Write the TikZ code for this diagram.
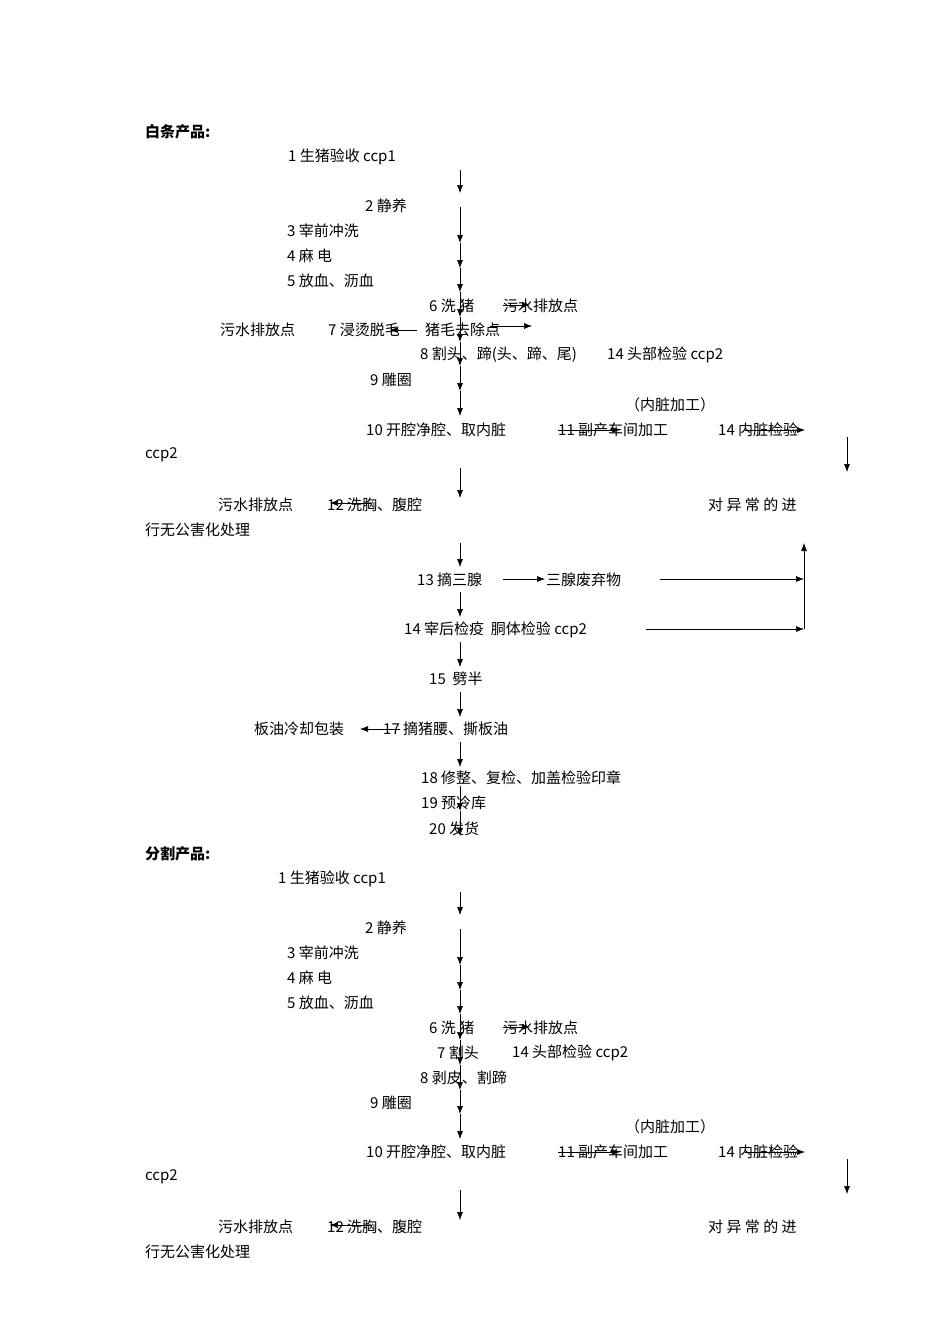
\documentclass[tikz,border=0pt]{standalone}
\usepackage{fontspec}
\setmainfont{Noto Sans CJK SC}
\usetikzlibrary{arrows.meta}
\begin{document}
\begin{tikzpicture}[x=1pt,y=-1pt,
  t/.style={anchor=west,inner sep=0pt,font=\fontsize{15}{15}\selectfont},
  tb/.style={t,font=\fontsize{15}{15}\selectfont\bfseries},
  ar/.style={-{Latex[length=8pt,width=6pt]},line width=0.6pt}]
\useasboundingbox[fill=white] (0,0) rectangle (950,1344);
% ---------- top part
\node[tb] (h1) at (145,132) {白条产品:};
\node[t] (a1) at (288,157) {1 生猪验收 ccp1};
\node[t] (a2) at (365,206) {2 静养};
\node[t] (a3) at (287,231) {3 宰前冲洗};
\node[t] (a4) at (287,256) {4 麻 电};
\node[t] (a5) at (287,281) {5 放血、沥血};
\node[t] (a6) at (429,306) {6 洗 猪};
\node[t] (w1) at (503,306) {污水排放点};
\node[t] (w2) at (220,330) {污水排放点};
\node[t] (a7) at (328,330) {7 浸烫脱毛};
\node[t] (zm) at (425,330) {猪毛去除点};
\node[t] (a8) at (420,355) {8 割头、蹄(头、蹄、尾)};
\node[t] (t14) at (607,355) {14 头部检验 ccp2};
\node[t] (a9) at (370,380) {9 雕圈};
\node[t] (nz) at (625,405) {（内脏加工）};
\node[t] (a10) at (366,430) {10 开腔净腔、取内脏};
\node[t] (a11) at (558,430) {11 副产车间加工};
\node[t] (n14) at (718,430) {14 内脏检验};
\node[t] (c2) at (145,455) {ccp2};
\node[t] (w3) at (218,505) {污水排放点};
\node[t] (a12) at (327,505) {12 洗胸、腹腔};
\node[t] (yc) at (708,505) {对 异 常 的 进};
\node[t] (wh) at (145,530) {行无公害化处理};
\node[t] (a13) at (417,580) {13 摘三腺};
\node[t] (sx) at (546,580) {三腺废弃物};
\node[t] (a14) at (404,630) {14 宰后检疫\ \ 胴体检验 ccp2};
\node[t] (a15) at (429,679) {15\ \ 劈半};
\node[t] (by) at (254,729) {板油冷却包装};
\node[t] (a17) at (383,729) {17 摘猪腰、撕板油};
\node[t] (a18) at (421,778) {18 修整、复检、加盖检验印章};
\node[t] (a19) at (421,803) {19 预冷库};
\node[t] (a20) at (429,829) {20 发货};
\foreach \a/\b in {170/193,207/243,243/268,268/292,292/317,317/342,342/366,366/391,391/416,468/498,543/567,592/617,642/667,692/717,742/767,786/811,811/836}
  \draw[ar] (460,\a) -- (460,\b);
\draw[ar] (503,305) -- (530,305);
\draw[ar] (490,326) -- (532,326);
\draw[ar] (417,330) -- (390,330);
\draw[ar] (558,430) -- (620,430);
\draw[ar] (745,430) -- (805,430);
\draw[ar] (847,437) -- (847,472);
\draw[ar] (372,503) -- (330,503);
\draw[ar] (503,579) -- (545,579);
\draw[ar] (660,579) -- (804,579);
\draw[ar] (646,629) -- (804,629);
\draw[ar] (804,629) -- (804,543);
\draw[ar] (400,729) -- (360,729);
% ---------- bottom part
\node[tb] (h2) at (145,854) {分割产品:};
\node[t] (b1) at (278,879) {1 生猪验收 ccp1};
\node[t] (b2) at (365,928) {2 静养};
\node[t] (b3) at (287,953) {3 宰前冲洗};
\node[t] (b4) at (287,978) {4 麻 电};
\node[t] (b5) at (287,1003) {5 放血、沥血};
\node[t] (b6) at (429,1028) {6 洗 猪};
\node[t] (v1) at (503,1028) {污水排放点};
\node[t] (b7) at (437,1053) {7 割头};
\node[t] (u14) at (512,1053) {14 头部检验 ccp2};
\node[t] (b8) at (420,1078) {8 剥皮、割蹄};
\node[t] (b9) at (370,1103) {9 雕圈};
\node[t] (mz) at (625,1127) {（内脏加工）};
\node[t] (b10) at (366,1152) {10 开腔净腔、取内脏};
\node[t] (b11) at (558,1152) {11 副产车间加工};
\node[t] (m14) at (718,1152) {14 内脏检验};
\node[t] (d2) at (145,1177) {ccp2};
\node[t] (v3) at (218,1227) {污水排放点};
\node[t] (b12) at (327,1227) {12 洗胸、腹腔};
\node[t] (xc) at (708,1227) {对 异 常 的 进};
\node[t] (xh) at (145,1252) {行无公害化处理};
\foreach \a/\b in {892/915,929/965,965/990,990/1014,1014/1040,1040/1065,1065/1090,1090/1114,1114/1139,1190/1220}
  \draw[ar] (460,\a) -- (460,\b);
\draw[ar] (503,1027) -- (530,1027);
\draw[ar] (558,1152) -- (620,1152);
\draw[ar] (745,1152) -- (805,1152);
\draw[ar] (847,1159) -- (847,1194);
\draw[ar] (372,1225) -- (330,1225);
\end{tikzpicture}
\end{document}
